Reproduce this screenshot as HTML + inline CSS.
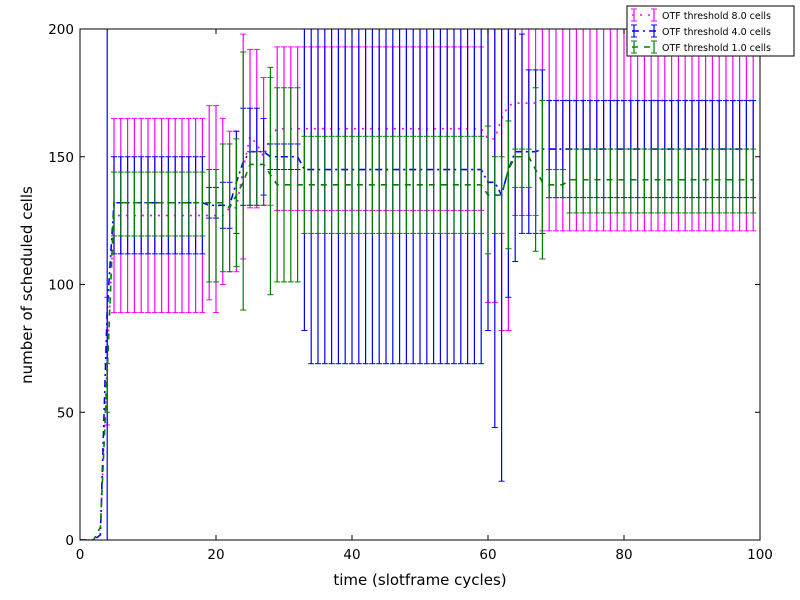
<!DOCTYPE html>
<html><head><meta charset="utf-8"><style>
html,body{margin:0;padding:0;background:#fff;}
svg{display:block;font-family:"DejaVu Sans","Liberation Sans",sans-serif;}
</style></head><body>
<svg id="chart" width="800" height="600" viewBox="0 0 800 600" xmlns="http://www.w3.org/2000/svg">
<rect x="0" y="0" width="800" height="600" fill="#fff"/>
<defs><clipPath id="plotclip"><rect x="80" y="29" width="680" height="511"/></clipPath></defs>
<g id="series" clip-path="url(#plotclip)"></g>
<rect x="80" y="29" width="680" height="511" fill="none" stroke="#000" stroke-width="1"/>
<g id="axes"></g>
<text x="420" y="585" font-size="15" text-anchor="middle">time (slotframe cycles)</text>
<text transform="translate(32,285) rotate(-90)" font-size="15" text-anchor="middle">number of scheduled cells</text>
<g id="legend"></g>
</svg>
<script>
const magMean=[0,0,0,5,70,127,127,127,127,127, 127,127,127,127,127,127,127,127,127,127, 127,127,130,130,145,158,155,150,158,161, 161,161,161,161,161,161,161,161,161,161, 161,161,161,161,161,161,161,161,161,161, 161,161,161,161,161,161,161,161,161,161, 157,157,165,170,171,171,171,171,172,172, 172,172,172,172,172,172,172,172,172,172, 172,172,172,172,172,172,172,172,172,172, 172,172,172,172,172,172,172,172,172,172];
const magHi=[0,0,0,5,95,165,165,165,165,165, 165,165,165,165,165,165,165,165,165,170, 170,165,160,160,198,192,192,181,181,193, 193,193,193,193,193,193,193,193,193,193, 193,193,193,193,193,193,193,193,193,193, 193,193,193,193,193,193,193,193,193,193, 225,225,225,225,225,225,225,225,225,225, 225,225,225,225,225,225,225,225,225,225, 225,225,225,225,225,225,225,225,225,225, 225,225,225,225,225,225,225,225,225,225];
const magLo=[0,0,0,5,45,89,89,89,89,89, 89,89,89,89,89,89,89,89,89,94, 89,100,105,105,110,130,130,131,131,129, 129,129,129,129,129,129,129,129,129,129, 129,129,129,129,129,129,129,129,129,129, 129,129,129,129,129,129,129,129,129,129, 93,93,82,82,127,127,127,127,121,121, 121,121,121,121,121,121,121,121,121,121, 121,121,121,121,121,121,121,121,121,121, 121,121,121,121,121,121,121,121,121,121];
const bluMean=[0,0,0,2,90,132,132,132,132,132, 132,132,132,132,132,132,132,132,132,131, 131,131,131,140,148,152,152,152,150,150, 150,150,150,145,145,145,145,145,145,145, 145,145,145,145,145,145,145,145,145,145, 145,145,145,145,145,145,145,145,145,145, 140,140,135,145,152,152,152,152,153,153, 153,153,153,153,153,153,153,153,153,153, 153,153,153,153,153,153,153,153,153,153, 153,153,153,153,153,153,153,153,153,153];
const bluHi=[0,0,0,2,220,150,150,150,150,150, 150,150,150,150,150,150,150,150,150,138, 138,140,140,160,169,169,169,165,155,155, 155,155,155,220,220,220,220,220,220,220, 220,220,220,220,220,220,220,220,220,220, 220,220,220,220,220,220,220,220,220,220, 220,220,220,220,220,198,184,184,184,172, 172,172,172,172,172,172,172,172,172,172, 172,172,172,172,172,172,172,172,172,172, 172,172,172,172,172,172,172,172,172,172];
const bluLo=[0,0,0,2,0,112,112,112,112,112, 112,112,112,112,112,112,112,112,112,126, 126,122,122,120,131,131,131,135,145,145, 145,145,145,82,69,69,69,69,69,69, 69,69,69,69,69,69,69,69,69,69, 69,69,69,69,69,69,69,69,69,69, 82,44,23,95,109,120,120,120,120,134, 134,134,134,134,134,134,134,134,134,134, 134,134,134,134,134,134,134,134,134,134, 134,134,134,134,134,134,134,134,134,134];
const grnMean=[0,0,0,5,65,132,132,132,132,132, 132,132,132,132,132,132,132,132,132,132, 132,132,130,135,140,147,147,147,143,139, 139,139,139,139,139,139,139,139,139,139, 139,139,139,139,139,139,139,139,139,139, 139,139,139,139,139,139,139,139,139,139, 135,135,135,145,150,150,150,145,140,139, 139,139,141,141,141,141,141,141,141,141, 141,141,141,141,141,141,141,141,141,141, 141,141,141,141,141,141,141,141,141,141];
const grnHi=[0,0,0,5,69,144,144,144,144,144, 144,144,144,144,144,144,144,144,144,145, 145,155,155,157,191,152,152,152,185,177, 177,177,177,158,158,158,158,158,158,158, 158,158,158,158,158,158,158,158,158,158, 158,158,158,158,158,158,158,158,158,158, 162,150,150,164,153,153,153,177,172,145, 145,145,153,153,153,153,153,153,153,153, 153,153,153,153,153,153,153,153,153,153, 153,153,153,153,153,153,153,153,153,153];
const grnLo=[0,0,0,5,50,119,119,119,119,119, 119,119,119,119,119,119,119,119,119,101, 101,105,105,107,90,131,131,131,96,101, 101,101,101,120,120,120,120,120,120,120, 120,120,120,120,120,120,120,120,120,120, 120,120,120,120,120,120,120,120,120,120, 112,120,120,114,138,138,138,113,110,134, 134,134,128,128,128,128,128,128,128,128, 128,128,128,128,128,128,128,128,128,128, 128,128,128,128,128,128,128,128,128,128];
const seriesNames=["OTF threshold 8.0 cells","OTF threshold 4.0 cells","OTF threshold 1.0 cells"];
const xTicks=[0,20,40,60,80,100];
const yTicks=[0,50,100,150,200];

const NS="http://www.w3.org/2000/svg";
const X0=80,X1=760,Y0=540,Y1=29;
function xs(v){return X0+(v-0)/(100-0)*(X1-X0);}
function ys(v){return Y0-(v-0)/(200-0)*(Y0-Y1);}
function mk(tag,attrs,parent){const e=document.createElementNS(NS,tag);for(const k in attrs)e.setAttribute(k,attrs[k]);parent.appendChild(e);return e;}

const sg=document.getElementById('series');
const defs=[
 {mean:magMean,hi:magHi,lo:magLo,color:"#ff00ff",dash:"2,6",key:"otf-8"},
 {mean:bluMean,hi:bluHi,lo:bluLo,color:"#0000ff",dash:"7,4,2,4",key:"otf-4"},
 {mean:grnMean,hi:grnHi,lo:grnLo,color:"#008000",dash:"6,6",key:"otf-1"}
];
defs.forEach(s=>{
  const g=mk('g',{},sg);
  
  
  for(let i=0;i<s.mean.length;i++){
    if(s.hi[i]===s.lo[i])continue;
    const x=xs(i);
    const bar=mk('line',{x1:x,x2:x,y1:ys(s.lo[i]),y2:ys(s.hi[i]),stroke:s.color,'stroke-width':1.2},g);
    
    
    mk('line',{x1:x-3,x2:x+3,y1:ys(s.lo[i]),y2:ys(s.lo[i]),stroke:s.color,'stroke-width':1},g);
    mk('line',{x1:x-3,x2:x+3,y1:ys(s.hi[i]),y2:ys(s.hi[i]),stroke:s.color,'stroke-width':1},g);
  }
  const pts=s.mean.map((v,i)=>xs(i)+","+ys(v)).join(" ");
  const pl=mk('polyline',{points:pts,fill:'none',stroke:s.color,'stroke-width':1.6,'stroke-dasharray':s.dash},g);
  
  
});

const ax=document.getElementById('axes');
xTicks.forEach(t=>{
  const x=xs(t);
  mk('line',{x1:x,x2:x,y1:Y0,y2:Y0-5,stroke:'#000'},ax);
  mk('line',{x1:x,x2:x,y1:Y1,y2:Y1+5,stroke:'#000'},ax);
  const tx=mk('text',{x:x,y:Y0+19,'font-size':13.5,'text-anchor':'middle'},ax);
  
  
  tx.textContent=t;
});
yTicks.forEach(t=>{
  const y=ys(t);
  mk('line',{x1:X0,x2:X0+5,y1:y,y2:y,stroke:'#000'},ax);
  mk('line',{x1:X1,x2:X1-5,y1:y,y2:y,stroke:'#000'},ax);
  const tx=mk('text',{x:X0-6,y:y+5,'font-size':13.5,'text-anchor':'end'},ax);
  
  
  tx.textContent=t;
});

const lg=document.getElementById('legend');
mk('rect',{x:627,y:6,width:167,height:50,fill:'#fff',stroke:'#000','stroke-width':1},lg);
defs.forEach((s,i)=>{
  const y=14+i*16+1;
  const e=mk('g',{},lg);
  
  
  mk('line',{x1:632,x2:656,y1:y,y2:y,stroke:s.color,'stroke-width':1.4,'stroke-dasharray':s.dash},e);
  [634,654].forEach(x=>{
    mk('line',{x1:x,x2:x,y1:y-6,y2:y+6,stroke:s.color,'stroke-width':1.2},e);
    mk('line',{x1:x-3,x2:x+3,y1:y-6,y2:y-6,stroke:s.color},e);
    mk('line',{x1:x-3,x2:x+3,y1:y+6,y2:y+6,stroke:s.color},e);
  });
  const t=mk('text',{x:662,y:y+4,'font-size':9.5},e);
  t.textContent=seriesNames[i];
});
</script>
</body></html>
